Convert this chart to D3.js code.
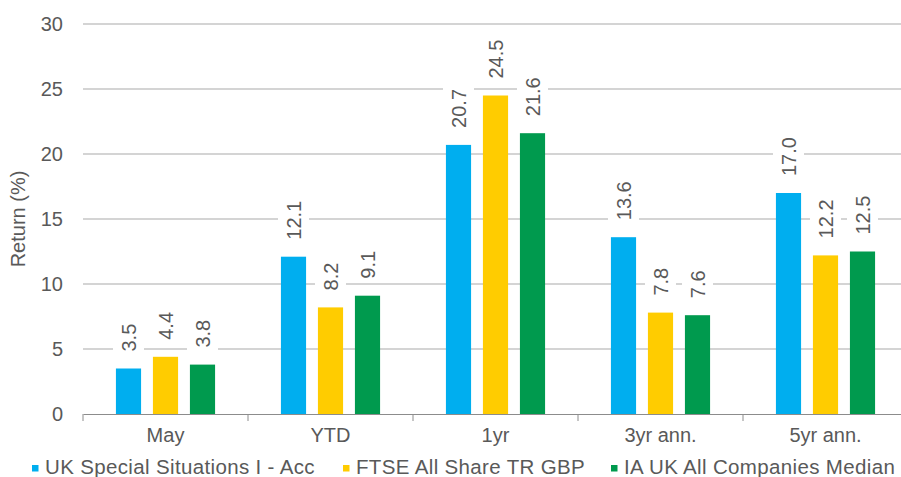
<!DOCTYPE html>
<html lang="en">
<head>
<meta charset="utf-8">
<script src="https://cdn.jsdelivr.net/npm/d3@7"></script>
<style>
    body { margin: 0; background: #fff; }
    text { font-family: "Liberation Sans", Arial, sans-serif; fill: #595959; }
</style>
</head>
<body>
<svg id="chart" width="901" height="477"></svg>
<script>
    // data
    var categories = ["May", "YTD", "1yr", "3yr ann.", "5yr ann."];
    var seriesNames = ["UK Special Situations I - Acc", "FTSE All Share TR GBP", "IA UK All Companies Median"];
    var fundValues = [3.5, 12.1, 20.7, 13.6, 17.0];
    var indexValues = [4.4, 8.2, 24.5, 7.8, 12.2];
    var sectorValues = [3.8, 9.1, 21.6, 7.6, 12.5];
    var yTicks = [0, 5, 10, 15, 20, 25, 30];
    var colors = ["#00aeef", "#ffcc00", "#009a4e"];

    var seriesValues = [fundValues, indexValues, sectorValues];

    var svg = d3.select("#chart");
    var plotLeft = 83, plotRight = 908, plotTop = 24, plotBottom = 414;

    var x = d3.scaleBand().domain(categories).range([plotLeft, plotRight]);
    var y = d3.scaleLinear().domain([0, 30]).range([plotBottom, plotTop]);
    var half = 55.5;
    var sub = d3.scaleBand().domain(seriesNames)
        .range([x.bandwidth() / 2 - half, x.bandwidth() / 2 + half])
        .paddingInner(0.32).paddingOuter(0.16);

    // gridlines
    svg.append("g").selectAll("line")
        .data(yTicks.filter(function(d) { return d > 0; }))
        .enter().append("line")
        .attr("x1", plotLeft).attr("x2", plotRight)
        .attr("y1", function(d) { return y(d); })
        .attr("y2", function(d) { return y(d); })
        .attr("stroke", "#a9a9a9").attr("stroke-width", 1);

    // y axis labels
    var yAxis = svg.append("g")
        .attr("transform", "translate(" + plotLeft + ",0)")
        .call(d3.axisLeft(y).tickValues(yTicks).tickSize(0).tickPadding(20));
    yAxis.select(".domain").remove();
    yAxis.selectAll("text").style("font-size", "20px").attr("fill", "#595959")
        .style("font-family", "Liberation Sans, Arial, sans-serif");

    // bars
    var rows = [];
    categories.forEach(function(c, i) {
        seriesNames.forEach(function(s, j) {
            rows.push({ cat: c, series: s, value: seriesValues[j][i], idx: j });
        });
    });

    svg.append("g").selectAll("rect")
        .data(rows)
        .enter().append("rect")
        .attr("x", function(d) { return x(d.cat) + sub(d.series); })
        .attr("y", function(d) { return y(d.value); })
        .attr("width", sub.bandwidth())
        .attr("height", function(d) { return plotBottom - y(d.value); })
        .attr("fill", function(d) { return colors[d.idx]; });

    // x axis
    var xAxis = svg.append("g")
        .attr("transform", "translate(0," + plotBottom + ")")
        .call(d3.axisBottom(x).tickSize(0).tickPadding(14));
    xAxis.select(".domain").attr("stroke", "#8c8c8c");
    xAxis.selectAll("text").style("font-size", "20px").attr("fill", "#595959")
        .style("font-family", "Liberation Sans, Arial, sans-serif");
    xAxis.selectAll(".boundary")
        .data(categories)
        .enter().append("line")
        .attr("x1", function(d) { return x(d); })
        .attr("x2", function(d) { return x(d); })
        .attr("y1", 0).attr("y2", 7)
        .attr("stroke", "#8c8c8c");

    // value labels with white boxes
    var labels = svg.append("g").selectAll("g")
        .data(rows)
        .enter().append("g")
        .attr("transform", function(d) {
            var cx = x(d.cat) + sub(d.series) + sub.bandwidth() / 2;
            return "translate(" + cx + "," + (y(d.value) - 17) + ") rotate(-90)";
        });
    labels.append("text")
        .attr("dominant-baseline", "central")
        .style("font-size", "20px")
        .text(function(d) { return d.value.toFixed(1); });
    labels.each(function() {
        var g = d3.select(this);
        var b = g.select("text").node().getBBox();
        g.insert("rect", "text")
            .attr("x", b.x - 4).attr("y", b.y - 4.5)
            .attr("width", b.width + 8).attr("height", b.height + 9)
            .attr("fill", "#fff");
    });

    // y title
    svg.append("text")
        .attr("transform", "translate(18," + ((plotTop + plotBottom) / 2) + ") rotate(-90)")
        .attr("text-anchor", "middle")
        .attr("dominant-baseline", "central")
        .style("font-size", "20px")
        .text("Return (%)");

    // legend
    var legendX = [32, 343, 611];
    var legend = svg.append("g").selectAll("g")
        .data(seriesNames)
        .enter().append("g")
        .attr("transform", function(d, i) { return "translate(" + legendX[i] + ",465)"; });
    legend.append("rect")
        .attr("width", 6.5).attr("height", 6.5)
        .attr("fill", function(d, i) { return colors[i]; });
    legend.append("text")
        .attr("x", 13).attr("y", 8.5)
        .style("font-size", "20.5px")
        .style("letter-spacing", "0.35px")
        .text(function(d) { return d; });
</script>
</body>
</html>
